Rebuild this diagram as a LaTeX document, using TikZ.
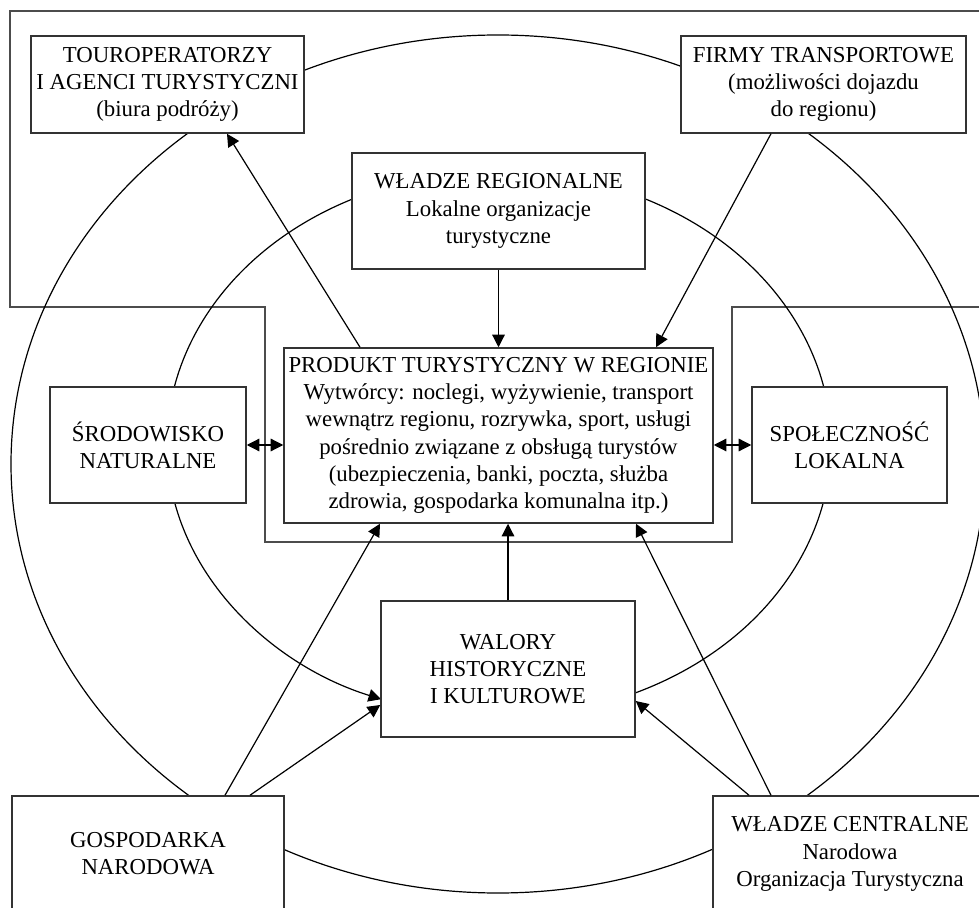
\documentclass[tikz,border=0pt]{standalone}
\usepackage{fontspec}
\setmainfont{Liberation Serif}
\usetikzlibrary{arrows.meta}
\begin{document}
\begin{tikzpicture}[x=0.5pt,y=-0.5pt,
  font=\fontsize{11.4pt}{13.6pt}\selectfont,
  box/.style n args={2}{draw=black!80, line width=0.75pt, fill=white,
    rectangle, inner sep=0pt, align=center,
    minimum width=#1*0.5pt, minimum height=#2*0.5pt},
  link/.style={line width=0.6pt, black},
  tip/.style={Triangle[length=6.3pt,width=6.3pt]},
  arr/.style={link, -{Triangle[length=6.3pt,width=6.3pt]}},
  darr/.style={link, {Triangle[length=6.3pt,width=6.3pt]}-{Triangle[length=6.3pt,width=6.3pt]}},
  frame/.style={draw=black!70, line width=0.9pt}]
\useasboundingbox (0,0) rectangle (979,908);
\clip (0,0) rectangle (979,908);

% outer frame around the regional level
\draw[frame] (10,11) -- (995,11) -- (995,307) -- (732,307) -- (732,542)
  -- (265,542) -- (265,307) -- (10,307) -- cycle;

% national ring
\draw[link] (498,464) ellipse [x radius=243.5pt, y radius=214.5pt];

% regional ring, closing on the heritage box
\coordinate (ringstart) at (635.1,693.0);
\draw[arr] (ringstart) arc[start angle=-65.8, end angle=249.2,
  x radius=166pt, y radius=136.5pt];

% boxes
\node[box={273}{97}]  (touro)    at (167.5,84.5) {TOUROPERATORZY\\I AGENCI TURYSTYCZNI\\(biura podróży)};
\node[box={285}{97}]  (firmy)    at (823.5,84.5) {FIRMY TRANSPORTOWE\\(możliwości dojazdu\\do regionu)};
\node[box={293}{116}] (regional) at (498.5,211)  {WŁADZE REGIONALNE\\Lokalne organizacje\\turystyczne};
\node[box={196}{116}] (srod)     at (148,445)    {ŚRODOWISKO\\NATURALNE};
\node[box={429}{175}] (produkt)  at (498.5,435.5) {PRODUKT TURYSTYCZNY W REGIONIE\\Wytwórcy: noclegi, wyżywienie, transport\\wewnątrz regionu, rozrywka, sport, usługi\\pośrednio związane z obsługą turystów\\(ubezpieczenia, banki, poczta, służba\\zdrowia, gospodarka komunalna itp.)};
\node[box={195}{116}] (spol)     at (849.5,445)  {SPOŁECZNOŚĆ\\LOKALNA};
\node[box={254}{136}] (walory)   at (508,669)    {WALORY\\HISTORYCZNE\\I KULTUROWE};
\node[box={272}{116}] (gosp)     at (148,854)    {GOSPODARKA\\NARODOWA};
\node[box={274}{116}] (central)  at (850,854)    {WŁADZE CENTRALNE\\Narodowa\\Organizacja Turystyczna};

% connectors
\draw[arr] (360,0 |- produkt.north) -- (227,0 |- touro.south);
\draw[arr] (regional.south) -- (regional.south |- produkt.north);
\draw[arr] (771,0 |- firmy.south) -- (656,0 |- produkt.north);
\draw[darr] (srod.east) -- (srod.east -| produkt.west);
\draw[darr] (produkt.east |- spol.west) -- (spol.west);
\draw[arr] (walory.north) -- (walory.north |- produkt.south);
\draw[arr] (225,0 |- gosp.north) -- (380,0 |- produkt.south);
\draw[arr] (250,0 |- gosp.north) -- (walory.west |- 0,705);
\draw[arr] (771,0 |- central.north) -- (636,0 |- produkt.south);
\draw[arr] (749,0 |- central.north) -- (walory.east |- 0,701);
\end{tikzpicture}
\end{document}
